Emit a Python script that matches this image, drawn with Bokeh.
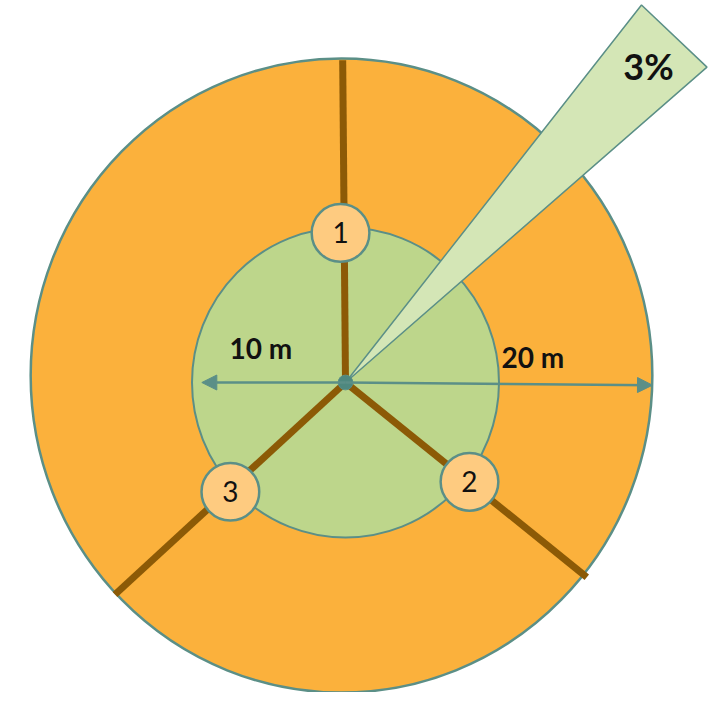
import numpy as np
from bokeh.plotting import figure
from bokeh.models import Range1d, ColumnDataSource, Arrow, NormalHead
from bokeh.core.properties import value
from bokeh.embed import file_html
from bokeh.resources import INLINE

# ---- data (metres, centre of plot = 0,0) ----
ring_names = ["inner 10 m", "outer 20 m"]
ring_cx = [0.0, -0.26]
ring_cy = [0.0, 0.45]
ring_w = [20.0, 40.5]
ring_h = [20.2, 41.3]

spoke_ids = ["1", "2", "3"]
spoke_angle_deg = [90.5, -38.9, 222.6]
spoke_len = [21.0, 20.2, 20.4]
marker_r = [9.75, 10.35, 10.34]
marker_angle_deg = [91.9, -38.7, 223.5]
marker_radius = 1.88

wedge_pct = 3
wedge_start_deg = 41.1
wedge_r = 31.25
wedge_label = "3%"
wedge_label_xy = (19.74, 20.61)

dist_labels = ["10 m", "20 m"]
dist_label_x = [-5.51, 12.21]
dist_label_y = [2.28, 1.67]
arrow_len = [9.36, 20.0]
arrow_dir_deg = [180.0, -0.5]

centre_dot_r = 0.48

# ---- colours ----
ORANGE = "#FBB13C"
GREEN = "#BDD68B"
LIGHT_GREEN = "#D4E6B6"
TEAL = "#5B8F87"
BROWN = "#8C5A06"
MARKER_FILL = "#FECB80"

W, H = 709, 692
K = 15.35
x0 = -345 / K
y_top = 382 / K
p = figure(width=W, height=H,
           x_range=Range1d(x0, x0 + W / K), y_range=Range1d(y_top - H / K, y_top),
           output_backend="svg", toolbar_location=None, min_border=0,
           x_axis_type=None, y_axis_type=None)
p.grid.visible = False
p.outline_line_color = None
p.background_fill_color = "white"
p.border_fill_color = "white"

# rings (outer first)
p.ellipse(x=[ring_cx[1]], y=[ring_cy[1]], width=[ring_w[1]], height=[ring_h[1]],
          fill_color=ORANGE, line_color=TEAL, line_width=2.5)
p.ellipse(x=[ring_cx[0]], y=[ring_cy[0]], width=[ring_w[0]], height=[ring_h[0]],
          fill_color=GREEN, line_color=TEAL, line_width=2)

# 3% wedge (straight outer edge)
a0 = np.deg2rad(wedge_start_deg)
a1 = np.deg2rad(wedge_start_deg + wedge_pct / 100 * 360)
p.patch(x=[0, wedge_r * np.cos(a1), wedge_r * np.cos(a0)],
        y=[0, wedge_r * np.sin(a1), wedge_r * np.sin(a0)],
        fill_color=LIGHT_GREEN, line_color=TEAL, line_width=1.5)

# spokes
sa = np.deg2rad(spoke_angle_deg)
spokes = ColumnDataSource(dict(x0=[0] * 3, y0=[0] * 3,
                               x1=np.array(spoke_len) * np.cos(sa),
                               y1=np.array(spoke_len) * np.sin(sa)))
p.segment(x0="x0", y0="y0", x1="x1", y1="y1", source=spokes,
          line_color=BROWN, line_width=7, line_cap="butt")

# distance arrows
ad = np.deg2rad(arrow_dir_deg)
arr = ColumnDataSource(dict(xs=[0, 0], ys=[0, 0],
                            xe=np.array(arrow_len) * np.cos(ad),
                            ye=np.array(arrow_len) * np.sin(ad)))
p.add_layout(Arrow(end=NormalHead(size=15, fill_color=TEAL, line_color=TEAL),
                   x_start="xs", y_start="ys", x_end="xe", y_end="ye",
                   source=arr, line_color=TEAL, line_width=2.5))

# centre dot
p.circle(x=[0], y=[0], radius=centre_dot_r, fill_color="#4E887F", line_color=TEAL)

# numbered plot markers
ma = np.deg2rad(marker_angle_deg)
mk = ColumnDataSource(dict(x=np.array(marker_r) * np.cos(ma),
                           y=np.array(marker_r) * np.sin(ma), t=spoke_ids))
p.circle(x="x", y="y", radius=marker_radius, source=mk,
         fill_color=MARKER_FILL, line_color=TEAL, line_width=2.5)
p.text(x="x", y="y", text="t", source=mk, text_align="center",
       text_baseline="middle", text_font=value("Lato"), text_font_size="28px",
       text_color="#111111")

# distance labels
p.text(x=dist_label_x, y=dist_label_y, text=dist_labels, text_align="center",
       text_baseline="middle", text_font=value("Lato"), text_font_size="28px",
       text_font_style="bold", text_color="#111111")

# 3% label
p.text(x=[wedge_label_xy[0]], y=[wedge_label_xy[1]], text=[wedge_label],
       text_align="center", text_baseline="middle", text_font=value("Lato"),
       text_font_size="36px", text_font_style="bold", text_color="#111111")

open("out.html", "w").write(file_html(p, INLINE))
